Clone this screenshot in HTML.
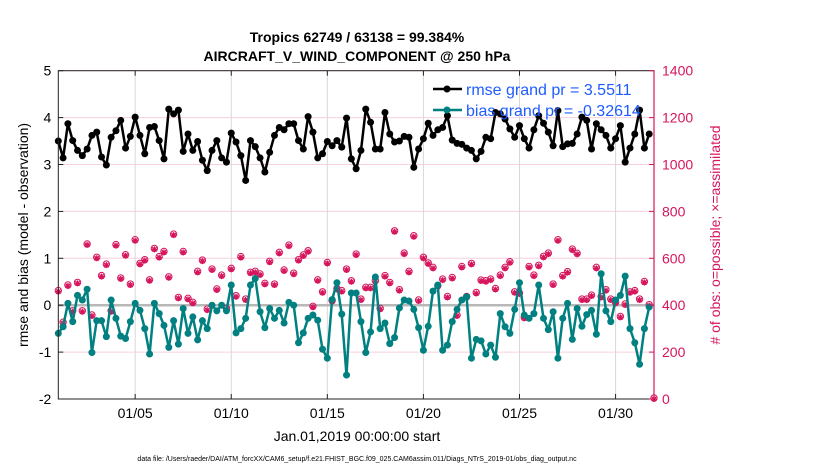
<!DOCTYPE html>
<html><head><meta charset="utf-8"><style>
body{margin:0;background:#fff;font-family:"Liberation Sans",sans-serif}
svg text{font-family:"Liberation Sans",sans-serif}
</style></head><body>
<svg id="chart" width="830" height="470" xmlns="http://www.w3.org/2000/svg">
<text x="357" y="42" text-anchor="middle" font-size="14" font-weight="bold">Tropics 62749 / 63138 = 99.384%</text>
<text x="357" y="61" text-anchor="middle" font-size="14" font-weight="bold">AIRCRAFT_V_WIND_COMPONENT @ 250 hPa</text>
<g id="grid"></g><g id="marks"></g><g id="axes"></g>
<text transform="translate(28,235) rotate(-90)" text-anchor="middle" font-size="14">rmse and bias (model - observation)</text>
<text transform="translate(720,235) rotate(-90)" text-anchor="middle" font-size="14" fill="#d6155d"># of obs: o=possible; ×=assimilated</text>
<text x="357" y="441" text-anchor="middle" font-size="14">Jan.01,2019 00:00:00 start</text>
<text x="357" y="461" text-anchor="middle" font-size="7">data file: /Users/raeder/DAI/ATM_forcXX/CAM6_setup/f.e21.FHIST_BGC.f09_025.CAM6assim.011/Diags_NTrS_2019-01/obs_diag_output.nc</text>
<g>
<line x1="433" y1="89" x2="462" y2="89" stroke="#000" stroke-width="2.5"/><circle cx="447" cy="89" r="3.5" fill="#000"/>
<text x="466" y="95" font-size="16" fill="#1f5cff">rmse grand pr = 3.5511</text>
<line x1="433" y1="110" x2="462" y2="110" stroke="#008080" stroke-width="2.5"/><circle cx="447" cy="110" r="3.5" fill="#008080"/>
<text x="466" y="116" font-size="16" fill="#1f5cff">bias grand pr = -0.32614</text>
</g>
</svg>
<script>
const rmse=[3.50,3.14,3.87,3.51,3.30,3.19,3.33,3.62,3.69,3.16,2.99,3.58,3.72,3.94,3.35,3.60,4.01,3.62,3.23,3.79,3.81,3.51,3.12,4.18,4.08,4.16,3.28,3.65,3.30,3.49,3.09,2.87,
3.30,3.51,3.14,3.05,3.67,3.48,3.19,2.66,3.51,3.38,3.14,2.84,3.26,3.62,3.79,3.74,3.87,3.87,3.51,3.33,4.02,3.69,3.14,3.23,3.49,3.40,3.51,3.37,3.99,3.12,2.91,
3.30,4.18,3.90,3.33,3.33,4.11,3.65,3.48,3.50,3.60,3.58,2.94,3.33,3.55,3.88,3.62,3.74,3.79,4.04,3.52,3.45,3.43,3.35,3.30,3.12,3.28,3.58,3.55,4.11,4.08,3.97,
3.76,3.58,3.83,3.55,3.35,3.74,4.04,3.88,3.69,3.40,4.15,3.38,3.44,3.45,3.65,4.01,3.94,3.33,3.87,3.74,3.62,3.35,3.55,3.83,3.05,3.35,3.65,4.16,3.35,3.65];
const bias=[-0.60,-0.46,0.04,-0.35,0.21,0.11,0.34,-1.01,-0.33,-0.33,-0.67,0.11,-0.28,-0.66,-0.71,-0.35,0.04,-0.11,-0.50,-1.04,0.04,-0.18,-0.43,-0.90,-0.33,-0.83,-0.07,-0.60,-0.25,-0.74,-0.33,-0.50,
0,-0.12,0,-0.12,0.43,-0.59,-0.50,-0.28,0.43,0.57,-0.14,-0.48,-0.07,-0.28,-0.11,-0.38,0.06,0,-0.80,-0.59,-0.28,-0.21,-0.32,-0.94,-1.13,0.12,0.48,-0.19,-1.49,0.26,0.26,
-0.35,-1.01,-0.57,0.60,-0.50,-0.38,-0.82,-0.69,-0.06,0.11,0.09,-0.09,-0.48,-0.96,-0.45,0.30,0.43,-0.96,-0.85,-0.35,-0.09,0.11,0.18,-1.13,-0.73,-0.76,-1.04,-0.85,-1.11,-0.18,-0.46,
-0.60,-0.09,0.48,-0.21,-0.28,-0.18,0.43,-0.28,-0.52,-0.14,-1.13,-0.28,0.04,-0.73,-0.07,-0.45,-0.20,-0.11,-0.62,0.67,-0.12,-0.35,0.11,0.21,0.62,-0.50,-0.80,-1.26,-0.50,-0.04];
const nObs=[458,323,482,372,493,372,657,354,600,522,571,372,654,512,611,486,675,574,590,504,638,603,625,517,699,429,625,425,408,540,588,379,
550,465,524,382,553,436,603,422,536,540,529,489,583,486,621,546,652,532,590,610,628,391,504,453,578,415,467,458,550,500,614,
422,472,472,500,382,522,493,713,462,618,540,692,418,600,576,557,479,507,433,514,354,561,433,574,450,503,500,507,467,524,557,
581,453,448,344,561,524,566,604,618,486,675,522,539,635,617,422,422,439,557,433,462,422,408,348,401,453,458,422,497,398,0];
const xTicks=[4,9,14,19,24,29];
const xTickLabels=["01/05","01/10","01/15","01/20","01/25","01/30"];
const yTicks=[-2,-1,0,1,2,3,4,5];
const y2Ticks=[0,200,400,600,800,1000,1200,1400];
const NS="http://www.w3.org/2000/svg";
const L=58.3,R=654,T=70.7,B=399;
const X=d=>L+(d/31)*(R-L);
const Y=v=>B-(v+2)/7*(B-T);
const Y2=v=>B-v/1400*(B-T);
function mk(p,t,a){const e=document.createElementNS(NS,t);for(const k in a)e.setAttribute(k,a[k]);p.appendChild(e);return e;}
const grid=document.getElementById('grid'),marks=document.getElementById('marks'),axes=document.getElementById('axes');
mk(grid,'rect',{x:L,y:T,width:R-L,height:B-T,fill:'#fff'});
yTicks.forEach(v=>{const g=mk(grid,'line',{x1:L,x2:R,y1:Y(v),y2:Y(v),stroke:'#f7d0dd','stroke-width':1});

});
xTicks.forEach(d=>{const g=mk(grid,'line',{x1:X(d),x2:X(d),y1:T,y2:B,stroke:'#d8d8d8','stroke-width':1});

});
const z=mk(grid,'line',{x1:L,x2:R,y1:Y(0),y2:Y(0),stroke:'#b8b8b8','stroke-width':2.5});


const dayOf=i=>i*0.25;
nObs.forEach((n,i)=>{const cx=X(dayOf(i)),cy=Y2(n);
const g=mk(marks,'g',{});


mk(g,'circle',{cx:cx,cy:cy-1,r:3.2,fill:'none',stroke:'#d6155d','stroke-width':1});
mk(g,'path',{d:`M${cx-3} ${cy}h6M${cx} ${cy-3}v6M${cx-2.2} ${cy-2.2}l4.4 4.4M${cx-2.2} ${cy+2.2}l4.4 -4.4`,stroke:'#d6155d','stroke-width':1.3});});
function series(arr,color,name){
const pts=arr.map((v,i)=>X(dayOf(i)).toFixed(1)+','+Y(v).toFixed(1)).join(' ');
const pl=mk(marks,'polyline',{points:pts,fill:'none',stroke:color,'stroke-width':2.5,'stroke-linejoin':'round'});


arr.forEach((v,i)=>{const c=mk(marks,'circle',{cx:X(dayOf(i)),cy:Y(v),r:3.5,fill:color});

});}
series(rmse,'#000','rmse');
series(bias,'#008080','bias');
mk(axes,'rect',{x:L,y:T,width:R-L,height:B-T,fill:'none',stroke:'#222','stroke-width':1});
mk(axes,'line',{x1:R,x2:R,y1:T,y2:B,stroke:'#d6155d','stroke-width':1.2});
yTicks.forEach(v=>{mk(axes,'line',{x1:L,x2:L+5,y1:Y(v),y2:Y(v),stroke:'#222'});
const t=mk(axes,'text',{x:L-7,y:Y(v)+5,'text-anchor':'end','font-size':14});t.textContent=v;

});
y2Ticks.forEach(v=>{mk(axes,'line',{x1:R-5,x2:R,y1:Y2(v),y2:Y2(v),stroke:'#d6155d'});
const t=mk(axes,'text',{x:R+8,y:Y2(v)+5,'font-size':14,fill:'#d6155d'});t.textContent=v;

});
xTicks.forEach((d,i)=>{mk(axes,'line',{x1:X(d),x2:X(d),y1:B,y2:B-5,stroke:'#222'});mk(axes,'line',{x1:X(d),x2:X(d),y1:T,y2:T+5,stroke:'#222'});
const t=mk(axes,'text',{x:X(d),y:B+19,'text-anchor':'middle','font-size':14});t.textContent=xTickLabels[i];

});
</script>
</body></html>
